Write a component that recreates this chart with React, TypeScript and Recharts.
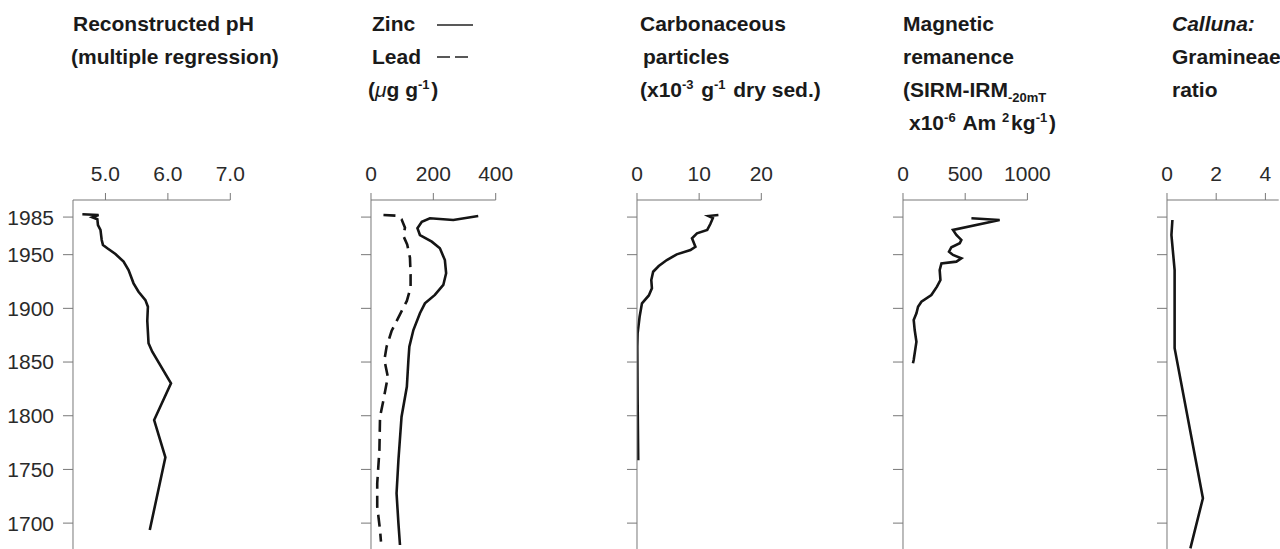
import React from 'react';
import { LineChart, Line, XAxis, YAxis } from 'recharts';

// ---------- shared axis ----------
const yearTicks = [1700, 1750, 1800, 1850, 1900, 1950, 1985];
const yearDomain: [number, number] = [1675.9, 2000.9];

// ---------- Panel 1: Reconstructed pH ----------
const phYears = [1987.6, 1986.9, 1984.8, 1983.0, 1977.6, 1973.0, 1963.7, 1959.0, 1955.9, 1950.6, 1943.5, 1935.7, 1923.3, 1915.5, 1907.7, 1901.5, 1888.4, 1867.5, 1859.6, 1830.2, 1796.0, 1761.3, 1693.6];
const phValues = [4.63, 4.89, 4.79, 4.87, 4.88, 4.92, 4.94, 4.96, 5.03, 5.16, 5.29, 5.37, 5.45, 5.53, 5.64, 5.68, 5.67, 5.69, 5.75, 6.05, 5.78, 5.96, 5.71];
const phTicks = [5, 6, 7];

// ---------- Panel 2: Zinc & Lead ----------
const zincYears = [1986.0, 1982.3, 1983.9, 1980.7, 1974.6, 1968.3, 1962.1, 1955.9, 1945.0, 1932.7, 1921.8, 1912.5, 1904.7, 1895.4, 1879.8, 1864.3, 1851.9, 1827.0, 1799.1, 1758.8, 1727.8, 1699.8, 1679.6];
const zincValues = [344, 264, 189, 163, 149, 157, 195, 221, 237, 241, 232, 205, 173, 157, 136, 123, 120, 115, 98, 88, 82, 88, 93];
const leadYears = [1986.9, 1986.3, 1982.9, 1975.1, 1967.4, 1959.6, 1947.2, 1931.6, 1919.2, 1906.9, 1894.4, 1878.9, 1864.3, 1851.9, 1836.3, 1814.6, 1799.1, 1767.9, 1737.1, 1715.3, 1693.6, 1682.7];
const leadValues = [40, 82, 98, 109, 104, 116, 125, 127, 127, 115, 93, 66, 50, 43, 54, 40, 29, 27, 20, 20, 29, 32];
const metalTicks = [0, 200, 400];

// ---------- Panel 3: Carbonaceous particles ----------
const carbonYears = [1986.9, 1986.0, 1984.0, 1978.5, 1973.0, 1969.9, 1965.2, 1957.4, 1954.3, 1950.3, 1945.0, 1939.4, 1934.1, 1926.4, 1918.7, 1912.0, 1904.7, 1892.2, 1876.8, 1864.3, 1814.6, 1758.6];
const carbonValues = [13.1, 11.5, 12.2, 11.8, 11.3, 9.65, 8.85, 9.4, 8.6, 6.4, 4.8, 3.5, 2.6, 2.3, 2.4, 1.9, 0.8, 0.42, 0.1, 0.05, 0.1, 0.2];
const carbonTicks = [0, 10, 20];

// ---------- Panel 4: Magnetic remanence ----------
const magYears = [1983.9, 1982.3, 1973.0, 1968.3, 1963.7, 1960.6, 1956.9, 1952.8, 1949.7, 1946.6, 1943.5, 1941.9, 1935.7, 1926.4, 1920.2, 1912.4, 1906.2, 1901.5, 1895.4, 1889.2, 1879.8, 1868.9, 1851.9, 1848.8];
const magValues = [550, 777, 402, 429, 469, 456, 389, 370, 402, 469, 429, 309, 295, 301, 273, 228, 148, 121, 108, 86, 94, 108, 86, 80];
const magTicks = [0, 500, 1000];

// ---------- Panel 5: Calluna : Gramineae ratio ----------
const callunaYears = [1982.3, 1968.3, 1935.7, 1862.9, 1723.2, 1676.5];
const callunaValues = [0.22, 0.18, 0.31, 0.31, 1.46, 0.95];
const callunaTicks = [0, 2, 4];

const toRows = (years: number[], key: string, values: number[]) =>
  years.map((y, i) => ({ year: y, [key]: values[i] }));

const phData = toRows(phYears, 'ph', phValues);
const metalData = [
  ...toRows(zincYears, 'zinc', zincValues),
  ...toRows(leadYears, 'lead', leadValues),
];
const carbonData = toRows(carbonYears, 'carbon', carbonValues);
const magData = toRows(magYears, 'mag', magValues);
const callunaData = toRows(callunaYears, 'calluna', callunaValues);

const TICK_FONT = "'Liberation Sans Narrow', 'Arial Narrow', 'Liberation Sans', Arial, sans-serif";
const HEAD_FONT = "'Liberation Sans', Arial, sans-serif";
const AXIS_COLOR = '#777';
const LINE_COLOR = '#151515';

type PanelProps = {
  left: number;
  right: number;
  domain: [number, number];
  ticks: number[];
  fmt?: (v: number) => string;
  showYearLabels?: boolean;
  data: any[];
  children: React.ReactNode;
};

const PAD = 72;
const RPAD = 32;
const TOP = 140;
const CHART_H = 409;

function Panel({ left, right, domain, ticks, fmt, showYearLabels, data, children }: PanelProps) {
  const divLeft = left - PAD;
  const width = right - left + PAD + RPAD;
  return (
    <div style={{ position: 'absolute', left: divLeft, top: TOP, width, height: CHART_H }}>
      <LineChart
        width={width}
        height={CHART_H}
        data={data}
        layout="vertical"
        margin={{ top: 59, right: RPAD, bottom: 0, left: PAD - 1 }}
      >
        <XAxis
          type="number"
          orientation="top"
          domain={domain}
          ticks={ticks}
          allowDataOverflow
          interval={0}
          height={1}
          tickSize={7}
          tickMargin={12}
          tickFormatter={fmt}
          axisLine={{ stroke: AXIS_COLOR, strokeWidth: 1 }}
          tickLine={{ stroke: AXIS_COLOR, strokeWidth: 1 }}
          tick={{ fontSize: 21, fontFamily: TICK_FONT, fill: '#2a2a2a' }}
        />
        <YAxis
          type="number"
          dataKey="year"
          domain={yearDomain}
          ticks={yearTicks}
          reversed
          allowDataOverflow
          interval={0}
          width={1}
          tickSize={10}
          tickMargin={9}
          tickFormatter={(v: number) => (showYearLabels ? String(v) : '')}
          axisLine={{ stroke: AXIS_COLOR, strokeWidth: 1 }}
          tickLine={{ stroke: AXIS_COLOR, strokeWidth: 1 }}
          tick={{ fontSize: 21, fontFamily: TICK_FONT, fill: '#2a2a2a' }}
        />
        {children}
      </LineChart>
    </div>
  );
}

const sup = (t: string) => (
  <>
    <tspan dy={-8} fontSize={13}>{t}</tspan>
    <tspan dy={8}>{'\u200a'}</tspan>
  </>
);

function Headers() {
  const common = { fontFamily: HEAD_FONT, fontWeight: 700, fontSize: 21, fill: '#1a1a1a' } as const;
  return (
    <svg width={1280} height={140} style={{ position: 'absolute', left: 0, top: 0 }}>
      {/* Panel 1 */}
      <text x={73} y={31} {...common}>Reconstructed pH</text>
      <text x={71} y={64} {...common}>(multiple regression)</text>
      {/* Panel 2 */}
      <text x={372} y={31} {...common}>Zinc</text>
      <line x1={437} x2={473} y1={25} y2={25} stroke="#222" strokeWidth={1.5} />
      <text x={372} y={64} {...common}>Lead</text>
      <line x1={437} x2={473} y1={57} y2={57} stroke="#222" strokeWidth={1.5} strokeDasharray="13 5" />
      <text x={368} y={97} {...common}>
        (<tspan fontStyle="italic" fontWeight={400}>μ</tspan>g g{sup('-1')})
      </text>
      {/* Panel 3 */}
      <text x={640} y={31} {...common}>Carbonaceous</text>
      <text x={643} y={64} {...common}>particles</text>
      <text x={640} y={97} {...common}>
        (x10{sup('-3')} g{sup('-1')} dry sed.)
      </text>
      {/* Panel 4 */}
      <text x={903} y={31} {...common}>Magnetic</text>
      <text x={903} y={64} {...common}>remanence</text>
      <text x={903} y={97} {...common}>
        (SIRM-IRM<tspan dy={5} fontSize={13}>-20mT</tspan>
      </text>
      <text x={909} y={130} {...common}>
        x10{sup('-6')} Am {sup('2')}kg{sup('-1')})
      </text>
      {/* Panel 5 */}
      <text x={1172} y={31} {...common} fontStyle="italic">Calluna:</text>
      <text x={1172} y={64} {...common}>Gramineae</text>
      <text x={1172} y={97} {...common}>ratio</text>
    </svg>
  );
}

export default function App() {
  return (
    <div style={{ position: 'absolute', left: 0, top: 0, width: 1280, height: 549, background: '#fff', overflow: 'hidden' }}>
      <Headers />
      <Panel left={72.7} right={230} domain={[4.48, 7]} ticks={phTicks} fmt={(v) => v.toFixed(1)} showYearLabels data={phData}>
        <Line dataKey="ph" type="linear" stroke={LINE_COLOR} strokeWidth={2.6} dot={false} isAnimationActive={false} />
      </Panel>
      <Panel left={371} right={495.7} domain={[0, 400]} ticks={metalTicks} data={metalData}>
        <Line dataKey="zinc" type="linear" stroke={LINE_COLOR} strokeWidth={2.6} dot={false} connectNulls isAnimationActive={false} />
        <Line dataKey="lead" type="linear" stroke={LINE_COLOR} strokeWidth={2.6} strokeDasharray="12 7" dot={false} connectNulls isAnimationActive={false} />
      </Panel>
      <Panel left={636.7} right={761} domain={[0, 20]} ticks={carbonTicks} data={carbonData}>
        <Line dataKey="carbon" type="linear" stroke={LINE_COLOR} strokeWidth={2.6} dot={false} isAnimationActive={false} />
      </Panel>
      <Panel left={903.3} right={1027.7} domain={[0, 1000]} ticks={magTicks} data={magData}>
        <Line dataKey="mag" type="linear" stroke={LINE_COLOR} strokeWidth={2.6} dot={false} isAnimationActive={false} />
      </Panel>
      <Panel left={1167.3} right={1279} domain={[0, 4.54]} ticks={callunaTicks} data={callunaData}>
        <Line dataKey="calluna" type="linear" stroke={LINE_COLOR} strokeWidth={2.6} dot={false} isAnimationActive={false} />
      </Panel>
    </div>
  );
}
